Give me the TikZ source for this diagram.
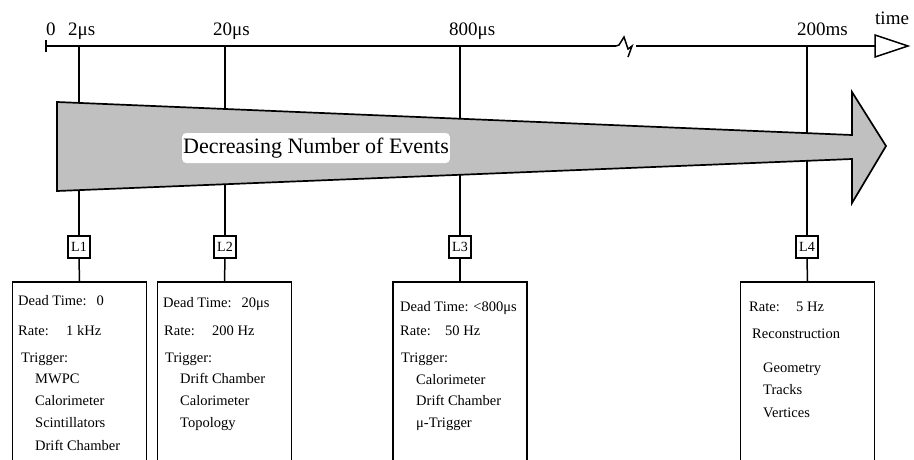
\documentclass[tikz,border=0pt]{standalone}
\usepackage{fontspec}
\setmainfont{Liberation Serif}
\begin{document}
\begin{tikzpicture}[x=1pt,y=-1pt,
  lev/.style={draw, line width=1.6pt, fill=white, minimum width=22pt, minimum height=22pt, inner sep=0pt, font=\fontsize{14}{16}\selectfont},
  panel/.style={draw, line width=1.8pt, minimum width=134pt, minimum height=200pt, anchor=north, inner sep=0pt},
  txt/.style={anchor=base west, inner sep=0pt, font=\fontsize{14.5}{16}\selectfont},
  axl/.style={anchor=base west, inner sep=0pt, font=\fontsize{19}{22}\selectfont},
  conn/.style={line width=1.5pt},
  axis/.style={line width=1.5pt}
]
\useasboundingbox (0,0) rectangle (914,459);

% axis
\coordinate (ax0) at (46,46);
\coordinate (axb1) at (616,46);
\coordinate (axb2) at (636,46);
\coordinate (axend) at (875,46);
\draw[axis] (46,40) -- (46,52);
\draw[axis] (ax0) -- (axb1);
\draw[axis, line join=miter] (axb1) -- (619,45) -- (624,37) -- (628,49) -- (632,46) -- (628,57);
\draw[axis] (axb2) -- (axend);
\draw[axis, fill=white, line join=miter] (875,35) -- (908,46) -- (875,57) -- cycle;

\node[axl] (lab0) at (46,35) {0};
\node[axl] (lab1) at (68,35) {2μs};
\node[axl] (lab2) at (213,35) {20μs};
\node[axl] (lab3) at (449,35) {800μs};
\node[axl] (lab4) at (797,35) {200ms};
\node[axl] (labt) at (875,24) {time};

% tick coordinates
\coordinate (t1) at (79,46);
\coordinate (t2) at (225,46);
\coordinate (t3) at (460,46);
\coordinate (t4) at (807,46);

% level boxes
\node[lev] (l1) at (79,247) {L1};
\node[lev] (l2) at (225,247) {L2};
\node[lev] (l3) at (460,247) {L3};
\node[lev] (l4) at (807,247) {L4};

% panels
\node[panel] (b1) at (79.5,281) {};
\node[panel] (b2) at (224.5,281) {};
\node[panel] (b3) at (460,281) {};
\node[panel] (b4) at (807.5,281) {};

% connectors
\foreach \i in {1,2,3,4} {
  \draw[conn] (t\i) -- (l\i.north);
  \draw[conn] (l\i.south) -- (b\i.north);
}

% big arrow
\draw[line width=1.7pt, fill={rgb,255:red,192;green,192;blue,192}, line join=miter]
  (57,102) -- (852,135) -- (852,92) -- (886,146) -- (852,203) -- (852,159) -- (57,191) -- cycle;
\node[fill=white, rounded corners=4pt, inner xsep=1pt, minimum height=30pt, font=\fontsize{22}{24}\selectfont] (dec) at (316,148) {Decreasing Number of Events};

% panel 1
\node[txt] (p1a) at (18,305) {Dead Time:\hspace{10pt}0};
\node[txt] (p1b) at (18,335) {\makebox[48pt][l]{Rate:}1 kHz};
\node[txt] (p1c) at (21,362) {Trigger:};
\node[txt] (p1d) at (35,383) {MWPC};
\node[txt] (p1e) at (35,405) {Calorimeter};
\node[txt] (p1f) at (35,427) {Scintillators};
\node[txt] (p1g) at (35,450) {Drift Chamber};

% panel 2
\node[txt] (p2a) at (163,307) {Dead Time:\hspace{10pt}20μs};
\node[txt] (p2b) at (164,335) {\makebox[48pt][l]{Rate:}200 Hz};
\node[txt] (p2c) at (165,362) {Trigger:};
\node[txt] (p2d) at (180,383) {Drift Chamber};
\node[txt] (p2e) at (180,405) {Calorimeter};
\node[txt] (p2f) at (180,427) {Topology};

% panel 3
\node[txt] (p3a) at (400,311) {Dead Time: <800μs};
\node[txt] (p3b) at (400,335) {\makebox[45pt][l]{Rate:}50 Hz};
\node[txt] (p3c) at (401,362) {Trigger:};
\node[txt] (p3d) at (416,384) {Calorimeter};
\node[txt] (p3e) at (416,405) {Drift Chamber};
\node[txt] (p3f) at (416,427) {μ-Trigger};

% panel 4
\node[txt] (p4a) at (749,311) {\makebox[47pt][l]{Rate:}5 Hz};
\node[txt] (p4b) at (752,338) {Reconstruction};
\node[txt] (p4c) at (763,372) {Geometry};
\node[txt] (p4d) at (763,394) {Tracks};
\node[txt] (p4e) at (763,417) {Vertices};
\end{tikzpicture}
\end{document}
